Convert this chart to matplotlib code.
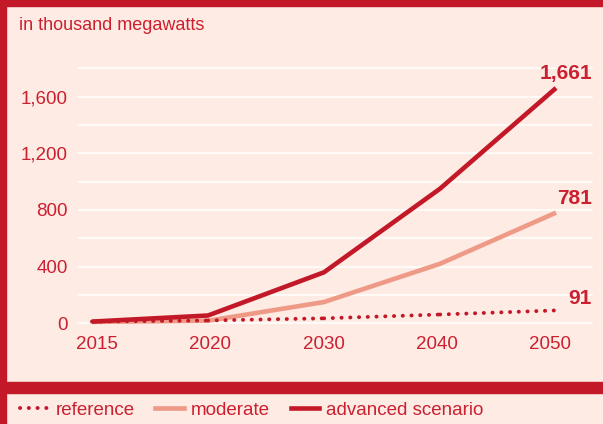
import matplotlib
matplotlib.use("Agg")
import matplotlib.pyplot as plt
from matplotlib.patches import Rectangle
from matplotlib.lines import Line2D
from matplotlib.ticker import FixedLocator

plt.rcParams['font.family'] = ['Liberation Sans', 'DejaVu Sans']

years = ["2015", "2020", "2030", "2040", "2050"]
reference = [12, 20, 35, 62, 91]
moderate = [10, 18, 150, 420, 781]
advanced = [12, 55, 360, 950, 1661]
end_labels = ["91", "781", "1,661"]
y_ticks = [0, 400, 800, 1200, 1600]
y_tick_labels = ["0", "400", "800", "1,200", "1,600"]
legend_labels = ["reference", "moderate", "advanced scenario"]
unit_label = "in thousand megawatts"

BG = "#FDEBE4"
RED = "#C31827"
TEXT = "#CC1F30"
SALMON = "#EE9A87"

W, H = 603, 424
fig = plt.figure(figsize=(W / 100, H / 100), dpi=100, facecolor=BG)

def fx(px):
    return px / W

def fy(py):
    return 1 - py / H

# frame bars
fig.patches.append(Rectangle((0, fy(6)), 1, 6 / H, transform=fig.transFigure, color=RED, zorder=0))
fig.patches.append(Rectangle((0, 0), fx(6), 1, transform=fig.transFigure, color=RED, zorder=0))
fig.patches.append(Rectangle((0, fy(393)), 1, 11 / H, transform=fig.transFigure, color=RED, zorder=0))

ax_left, ax_right, ax_top, ax_bottom = 78, 592, 68.3, 323.3
ax = fig.add_axes([fx(ax_left), fy(ax_bottom), fx(ax_right - ax_left), (ax_bottom - ax_top) / H])
ax.set_facecolor(BG)
for s in ax.spines.values():
    s.set_visible(False)

x = list(range(len(years)))
ax.set_xlim(-0.12, 4.31)
ax.set_ylim(0, 1800)

# grid
for g in range(0, 1801, 200):
    ax.axhline(g, color="white", lw=1.1, zorder=1, clip_on=False)

DOT = (0, (0.05, 2.2))
ax.plot(x, moderate, color=SALMON, lw=3.3, solid_capstyle="butt", zorder=3, clip_on=False)
ax.plot(x, advanced, color=RED, lw=3.3, solid_capstyle="butt", zorder=4, clip_on=False)
for i in range(len(x) - 1):
    ax.plot(x[i:i + 2], reference[i:i + 2], color=RED, lw=2.8, linestyle=DOT,
            dash_capstyle="round", zorder=5, clip_on=False)

ax.yaxis.set_major_locator(FixedLocator(y_ticks))
ax.set_yticklabels(y_tick_labels)
ax.set_xticks([])
ax.tick_params(axis="both", length=0, labelsize=13.5, labelcolor=TEXT)
ax.tick_params(axis="y", pad=7.5)

# category labels axis (labels spaced slightly tighter than the data points)
axl = ax.twiny()
axl.set_xlim(-0.168, 4.371)
axl.xaxis.set_ticks_position("bottom")
axl.xaxis.set_label_position("bottom")
axl.set_xticks(x)
axl.set_xticklabels(years)
axl.tick_params(axis="x", length=0, labelsize=13.5, labelcolor=TEXT, pad=9)
for s in axl.spines.values():
    s.set_visible(False)

# end labels
offsets = [2, 3, 3.5]
for series, lab, off in zip([reference, moderate, advanced], end_labels, offsets):
    ax.annotate(lab, xy=(1.0, series[-1]), xycoords=("axes fraction", "data"),
                xytext=(0, off), textcoords="offset points", ha="right", va="bottom",
                fontsize=15, fontweight="bold", color=TEXT)

fig.text(fx(19), fy(25.5), unit_label, fontsize=13, color=TEXT, va="center", ha="left")

handles = [
    Line2D([], [], color=RED, lw=2.8, linestyle=DOT, dash_capstyle="round"),
    Line2D([], [], color=SALMON, lw=3.3),
    Line2D([], [], color=RED, lw=3.3),
]
leg = fig.legend(handles, legend_labels, loc="center left", bbox_to_anchor=(fx(20), fy(410)),
                 ncol=3, frameon=False, fontsize=13.5, handlelength=1.5, handletextpad=0.4,
                 columnspacing=1.1, borderaxespad=0, borderpad=0)
for t in leg.get_texts():
    t.set_color(TEXT)

fig.savefig("out.png", dpi=100, facecolor=BG)
